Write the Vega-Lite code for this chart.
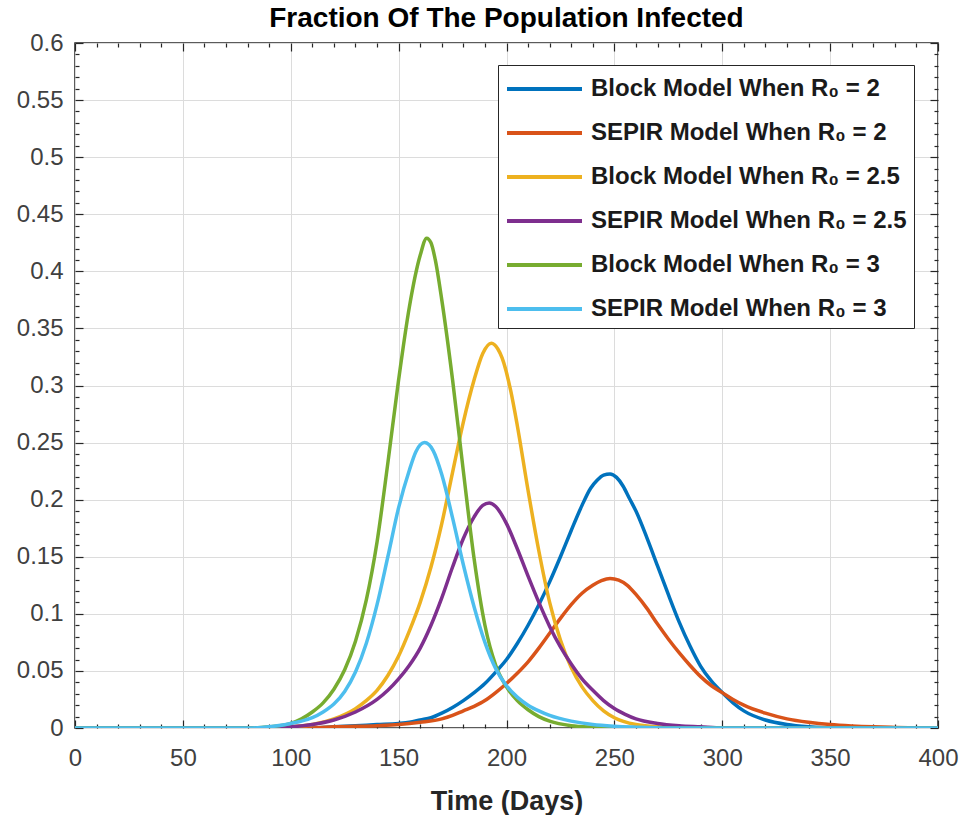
{
  "$schema": "https://vega.github.io/schema/vega-lite/v6.json",
  "autosize": "none",
  "width": 863,
  "height": 685,
  "padding": {"left": 75, "top": 43, "right": 22, "bottom": 87},
  "background": "white",
  "title": {"text": "Fraction Of The Population Infected", "fontSize": 28, "fontWeight": "bold", "font": "Liberation Sans", "color": "black", "offset": -2},
  "config": {
    "view": {"stroke": "#262626", "strokeWidth": 1.5},
    "font": "Liberation Sans",
    "axis": {"labelFont": "Liberation Sans", "labelFontSize": 24, "labelColor": "#404040", "titleFont": "Liberation Sans", "gridColor": "#dcdcdc", "gridWidth": 1, "domain": false, "tickColor": "#262626", "tickWidth": 1.2, "labelOverlap": false, "labelFlush": false}
  },
  "datasets": {
    "curves": [
      {"s": "Block Model When R₀ = 2", "d": 0, "v": 0},
      {"s": "Block Model When R₀ = 2", "d": 110, "v": 0},
      {"s": "Block Model When R₀ = 2", "d": 120, "v": 0.001},
      {"s": "Block Model When R₀ = 2", "d": 130, "v": 0.002},
      {"s": "Block Model When R₀ = 2", "d": 140, "v": 0.003},
      {"s": "Block Model When R₀ = 2", "d": 150, "v": 0.004},
      {"s": "Block Model When R₀ = 2", "d": 155, "v": 0.005},
      {"s": "Block Model When R₀ = 2", "d": 160, "v": 0.007},
      {"s": "Block Model When R₀ = 2", "d": 165, "v": 0.009},
      {"s": "Block Model When R₀ = 2", "d": 170, "v": 0.013},
      {"s": "Block Model When R₀ = 2", "d": 175, "v": 0.018},
      {"s": "Block Model When R₀ = 2", "d": 180, "v": 0.024},
      {"s": "Block Model When R₀ = 2", "d": 185, "v": 0.031},
      {"s": "Block Model When R₀ = 2", "d": 190, "v": 0.039},
      {"s": "Block Model When R₀ = 2", "d": 195, "v": 0.049},
      {"s": "Block Model When R₀ = 2", "d": 200, "v": 0.06},
      {"s": "Block Model When R₀ = 2", "d": 205, "v": 0.074},
      {"s": "Block Model When R₀ = 2", "d": 210, "v": 0.09},
      {"s": "Block Model When R₀ = 2", "d": 215, "v": 0.108},
      {"s": "Block Model When R₀ = 2", "d": 220, "v": 0.128},
      {"s": "Block Model When R₀ = 2", "d": 225, "v": 0.15},
      {"s": "Block Model When R₀ = 2", "d": 230, "v": 0.173},
      {"s": "Block Model When R₀ = 2", "d": 235, "v": 0.195},
      {"s": "Block Model When R₀ = 2", "d": 239, "v": 0.21},
      {"s": "Block Model When R₀ = 2", "d": 242, "v": 0.217},
      {"s": "Block Model When R₀ = 2", "d": 245, "v": 0.2215},
      {"s": "Block Model When R₀ = 2", "d": 248, "v": 0.2225},
      {"s": "Block Model When R₀ = 2", "d": 251, "v": 0.2195},
      {"s": "Block Model When R₀ = 2", "d": 254, "v": 0.212},
      {"s": "Block Model When R₀ = 2", "d": 257, "v": 0.201},
      {"s": "Block Model When R₀ = 2", "d": 260, "v": 0.19},
      {"s": "Block Model When R₀ = 2", "d": 265, "v": 0.167},
      {"s": "Block Model When R₀ = 2", "d": 270, "v": 0.142},
      {"s": "Block Model When R₀ = 2", "d": 275, "v": 0.117},
      {"s": "Block Model When R₀ = 2", "d": 280, "v": 0.093},
      {"s": "Block Model When R₀ = 2", "d": 285, "v": 0.072},
      {"s": "Block Model When R₀ = 2", "d": 290, "v": 0.054},
      {"s": "Block Model When R₀ = 2", "d": 295, "v": 0.041},
      {"s": "Block Model When R₀ = 2", "d": 300, "v": 0.031},
      {"s": "Block Model When R₀ = 2", "d": 305, "v": 0.022},
      {"s": "Block Model When R₀ = 2", "d": 310, "v": 0.015},
      {"s": "Block Model When R₀ = 2", "d": 320, "v": 0.007},
      {"s": "Block Model When R₀ = 2", "d": 330, "v": 0.003},
      {"s": "Block Model When R₀ = 2", "d": 340, "v": 0.001},
      {"s": "Block Model When R₀ = 2", "d": 350, "v": 0},
      {"s": "Block Model When R₀ = 2", "d": 400, "v": 0},

      {"s": "SEPIR Model When R₀ = 2", "d": 0, "v": 0},
      {"s": "SEPIR Model When R₀ = 2", "d": 110, "v": 0},
      {"s": "SEPIR Model When R₀ = 2", "d": 120, "v": 0.001},
      {"s": "SEPIR Model When R₀ = 2", "d": 140, "v": 0.002},
      {"s": "SEPIR Model When R₀ = 2", "d": 150, "v": 0.003},
      {"s": "SEPIR Model When R₀ = 2", "d": 160, "v": 0.005},
      {"s": "SEPIR Model When R₀ = 2", "d": 170, "v": 0.008},
      {"s": "SEPIR Model When R₀ = 2", "d": 175, "v": 0.011},
      {"s": "SEPIR Model When R₀ = 2", "d": 180, "v": 0.015},
      {"s": "SEPIR Model When R₀ = 2", "d": 185, "v": 0.019},
      {"s": "SEPIR Model When R₀ = 2", "d": 190, "v": 0.024},
      {"s": "SEPIR Model When R₀ = 2", "d": 195, "v": 0.031},
      {"s": "SEPIR Model When R₀ = 2", "d": 200, "v": 0.039},
      {"s": "SEPIR Model When R₀ = 2", "d": 205, "v": 0.048},
      {"s": "SEPIR Model When R₀ = 2", "d": 210, "v": 0.058},
      {"s": "SEPIR Model When R₀ = 2", "d": 215, "v": 0.07},
      {"s": "SEPIR Model When R₀ = 2", "d": 220, "v": 0.083},
      {"s": "SEPIR Model When R₀ = 2", "d": 225, "v": 0.096},
      {"s": "SEPIR Model When R₀ = 2", "d": 230, "v": 0.108},
      {"s": "SEPIR Model When R₀ = 2", "d": 235, "v": 0.118},
      {"s": "SEPIR Model When R₀ = 2", "d": 240, "v": 0.125},
      {"s": "SEPIR Model When R₀ = 2", "d": 244, "v": 0.129},
      {"s": "SEPIR Model When R₀ = 2", "d": 248, "v": 0.131},
      {"s": "SEPIR Model When R₀ = 2", "d": 252, "v": 0.1295},
      {"s": "SEPIR Model When R₀ = 2", "d": 256, "v": 0.125},
      {"s": "SEPIR Model When R₀ = 2", "d": 260, "v": 0.117},
      {"s": "SEPIR Model When R₀ = 2", "d": 265, "v": 0.105},
      {"s": "SEPIR Model When R₀ = 2", "d": 270, "v": 0.091},
      {"s": "SEPIR Model When R₀ = 2", "d": 275, "v": 0.078},
      {"s": "SEPIR Model When R₀ = 2", "d": 280, "v": 0.066},
      {"s": "SEPIR Model When R₀ = 2", "d": 285, "v": 0.055},
      {"s": "SEPIR Model When R₀ = 2", "d": 290, "v": 0.045},
      {"s": "SEPIR Model When R₀ = 2", "d": 295, "v": 0.037},
      {"s": "SEPIR Model When R₀ = 2", "d": 300, "v": 0.031},
      {"s": "SEPIR Model When R₀ = 2", "d": 305, "v": 0.025},
      {"s": "SEPIR Model When R₀ = 2", "d": 310, "v": 0.02},
      {"s": "SEPIR Model When R₀ = 2", "d": 320, "v": 0.013},
      {"s": "SEPIR Model When R₀ = 2", "d": 330, "v": 0.008},
      {"s": "SEPIR Model When R₀ = 2", "d": 340, "v": 0.005},
      {"s": "SEPIR Model When R₀ = 2", "d": 350, "v": 0.003},
      {"s": "SEPIR Model When R₀ = 2", "d": 360, "v": 0.0018},
      {"s": "SEPIR Model When R₀ = 2", "d": 370, "v": 0.001},
      {"s": "SEPIR Model When R₀ = 2", "d": 380, "v": 0.0005},
      {"s": "SEPIR Model When R₀ = 2", "d": 390, "v": 0.0002},
      {"s": "SEPIR Model When R₀ = 2", "d": 400, "v": 0},

      {"s": "Block Model When R₀ = 2.5", "d": 0, "v": 0},
      {"s": "Block Model When R₀ = 2.5", "d": 90, "v": 0},
      {"s": "Block Model When R₀ = 2.5", "d": 100, "v": 0.001},
      {"s": "Block Model When R₀ = 2.5", "d": 110, "v": 0.003},
      {"s": "Block Model When R₀ = 2.5", "d": 120, "v": 0.008},
      {"s": "Block Model When R₀ = 2.5", "d": 130, "v": 0.017},
      {"s": "Block Model When R₀ = 2.5", "d": 135, "v": 0.024},
      {"s": "Block Model When R₀ = 2.5", "d": 140, "v": 0.033},
      {"s": "Block Model When R₀ = 2.5", "d": 145, "v": 0.046},
      {"s": "Block Model When R₀ = 2.5", "d": 150, "v": 0.063},
      {"s": "Block Model When R₀ = 2.5", "d": 155, "v": 0.085},
      {"s": "Block Model When R₀ = 2.5", "d": 160, "v": 0.11},
      {"s": "Block Model When R₀ = 2.5", "d": 165, "v": 0.141},
      {"s": "Block Model When R₀ = 2.5", "d": 170, "v": 0.179},
      {"s": "Block Model When R₀ = 2.5", "d": 175, "v": 0.224},
      {"s": "Block Model When R₀ = 2.5", "d": 180, "v": 0.268},
      {"s": "Block Model When R₀ = 2.5", "d": 185, "v": 0.305},
      {"s": "Block Model When R₀ = 2.5", "d": 189, "v": 0.328},
      {"s": "Block Model When R₀ = 2.5", "d": 193, "v": 0.337},
      {"s": "Block Model When R₀ = 2.5", "d": 196, "v": 0.332},
      {"s": "Block Model When R₀ = 2.5", "d": 198, "v": 0.324},
      {"s": "Block Model When R₀ = 2.5", "d": 202, "v": 0.295},
      {"s": "Block Model When R₀ = 2.5", "d": 205, "v": 0.265},
      {"s": "Block Model When R₀ = 2.5", "d": 210, "v": 0.208},
      {"s": "Block Model When R₀ = 2.5", "d": 215, "v": 0.155},
      {"s": "Block Model When R₀ = 2.5", "d": 220, "v": 0.11},
      {"s": "Block Model When R₀ = 2.5", "d": 225, "v": 0.077},
      {"s": "Block Model When R₀ = 2.5", "d": 230, "v": 0.053},
      {"s": "Block Model When R₀ = 2.5", "d": 235, "v": 0.036},
      {"s": "Block Model When R₀ = 2.5", "d": 240, "v": 0.024},
      {"s": "Block Model When R₀ = 2.5", "d": 245, "v": 0.015},
      {"s": "Block Model When R₀ = 2.5", "d": 250, "v": 0.009},
      {"s": "Block Model When R₀ = 2.5", "d": 260, "v": 0.003},
      {"s": "Block Model When R₀ = 2.5", "d": 270, "v": 0.001},
      {"s": "Block Model When R₀ = 2.5", "d": 280, "v": 0},
      {"s": "Block Model When R₀ = 2.5", "d": 400, "v": 0},

      {"s": "SEPIR Model When R₀ = 2.5", "d": 0, "v": 0},
      {"s": "SEPIR Model When R₀ = 2.5", "d": 90, "v": 0},
      {"s": "SEPIR Model When R₀ = 2.5", "d": 100, "v": 0.001},
      {"s": "SEPIR Model When R₀ = 2.5", "d": 110, "v": 0.003},
      {"s": "SEPIR Model When R₀ = 2.5", "d": 120, "v": 0.007},
      {"s": "SEPIR Model When R₀ = 2.5", "d": 130, "v": 0.014},
      {"s": "SEPIR Model When R₀ = 2.5", "d": 140, "v": 0.025},
      {"s": "SEPIR Model When R₀ = 2.5", "d": 145, "v": 0.033},
      {"s": "SEPIR Model When R₀ = 2.5", "d": 150, "v": 0.043},
      {"s": "SEPIR Model When R₀ = 2.5", "d": 155, "v": 0.055},
      {"s": "SEPIR Model When R₀ = 2.5", "d": 160, "v": 0.07},
      {"s": "SEPIR Model When R₀ = 2.5", "d": 165, "v": 0.09},
      {"s": "SEPIR Model When R₀ = 2.5", "d": 170, "v": 0.114},
      {"s": "SEPIR Model When R₀ = 2.5", "d": 175, "v": 0.141},
      {"s": "SEPIR Model When R₀ = 2.5", "d": 180, "v": 0.166},
      {"s": "SEPIR Model When R₀ = 2.5", "d": 185, "v": 0.185},
      {"s": "SEPIR Model When R₀ = 2.5", "d": 189, "v": 0.195},
      {"s": "SEPIR Model When R₀ = 2.5", "d": 192, "v": 0.197},
      {"s": "SEPIR Model When R₀ = 2.5", "d": 195, "v": 0.194},
      {"s": "SEPIR Model When R₀ = 2.5", "d": 200, "v": 0.179},
      {"s": "SEPIR Model When R₀ = 2.5", "d": 205, "v": 0.157},
      {"s": "SEPIR Model When R₀ = 2.5", "d": 210, "v": 0.133},
      {"s": "SEPIR Model When R₀ = 2.5", "d": 215, "v": 0.11},
      {"s": "SEPIR Model When R₀ = 2.5", "d": 220, "v": 0.089},
      {"s": "SEPIR Model When R₀ = 2.5", "d": 225, "v": 0.071},
      {"s": "SEPIR Model When R₀ = 2.5", "d": 230, "v": 0.056},
      {"s": "SEPIR Model When R₀ = 2.5", "d": 235, "v": 0.043},
      {"s": "SEPIR Model When R₀ = 2.5", "d": 240, "v": 0.033},
      {"s": "SEPIR Model When R₀ = 2.5", "d": 245, "v": 0.024},
      {"s": "SEPIR Model When R₀ = 2.5", "d": 250, "v": 0.017},
      {"s": "SEPIR Model When R₀ = 2.5", "d": 255, "v": 0.012},
      {"s": "SEPIR Model When R₀ = 2.5", "d": 260, "v": 0.008},
      {"s": "SEPIR Model When R₀ = 2.5", "d": 270, "v": 0.004},
      {"s": "SEPIR Model When R₀ = 2.5", "d": 280, "v": 0.002},
      {"s": "SEPIR Model When R₀ = 2.5", "d": 290, "v": 0.001},
      {"s": "SEPIR Model When R₀ = 2.5", "d": 300, "v": 0},
      {"s": "SEPIR Model When R₀ = 2.5", "d": 400, "v": 0},

      {"s": "Block Model When R₀ = 3", "d": 0, "v": 0},
      {"s": "Block Model When R₀ = 3", "d": 80, "v": 0},
      {"s": "Block Model When R₀ = 3", "d": 90, "v": 0.001},
      {"s": "Block Model When R₀ = 3", "d": 100, "v": 0.004},
      {"s": "Block Model When R₀ = 3", "d": 105, "v": 0.008},
      {"s": "Block Model When R₀ = 3", "d": 110, "v": 0.014},
      {"s": "Block Model When R₀ = 3", "d": 115, "v": 0.022},
      {"s": "Block Model When R₀ = 3", "d": 120, "v": 0.034},
      {"s": "Block Model When R₀ = 3", "d": 125, "v": 0.051},
      {"s": "Block Model When R₀ = 3", "d": 130, "v": 0.076},
      {"s": "Block Model When R₀ = 3", "d": 135, "v": 0.112},
      {"s": "Block Model When R₀ = 3", "d": 140, "v": 0.163},
      {"s": "Block Model When R₀ = 3", "d": 145, "v": 0.232},
      {"s": "Block Model When R₀ = 3", "d": 150, "v": 0.305},
      {"s": "Block Model When R₀ = 3", "d": 155, "v": 0.369},
      {"s": "Block Model When R₀ = 3", "d": 160, "v": 0.414},
      {"s": "Block Model When R₀ = 3", "d": 163, "v": 0.429},
      {"s": "Block Model When R₀ = 3", "d": 165, "v": 0.425},
      {"s": "Block Model When R₀ = 3", "d": 167, "v": 0.41},
      {"s": "Block Model When R₀ = 3", "d": 170, "v": 0.375},
      {"s": "Block Model When R₀ = 3", "d": 175, "v": 0.305},
      {"s": "Block Model When R₀ = 3", "d": 180, "v": 0.225},
      {"s": "Block Model When R₀ = 3", "d": 185, "v": 0.148},
      {"s": "Block Model When R₀ = 3", "d": 190, "v": 0.09},
      {"s": "Block Model When R₀ = 3", "d": 195, "v": 0.055},
      {"s": "Block Model When R₀ = 3", "d": 200, "v": 0.036},
      {"s": "Block Model When R₀ = 3", "d": 205, "v": 0.024},
      {"s": "Block Model When R₀ = 3", "d": 210, "v": 0.016},
      {"s": "Block Model When R₀ = 3", "d": 215, "v": 0.01},
      {"s": "Block Model When R₀ = 3", "d": 220, "v": 0.006},
      {"s": "Block Model When R₀ = 3", "d": 230, "v": 0.002},
      {"s": "Block Model When R₀ = 3", "d": 240, "v": 0.0007},
      {"s": "Block Model When R₀ = 3", "d": 250, "v": 0},
      {"s": "Block Model When R₀ = 3", "d": 400, "v": 0},

      {"s": "SEPIR Model When R₀ = 3", "d": 0, "v": 0},
      {"s": "SEPIR Model When R₀ = 3", "d": 80, "v": 0},
      {"s": "SEPIR Model When R₀ = 3", "d": 90, "v": 0.001},
      {"s": "SEPIR Model When R₀ = 3", "d": 100, "v": 0.004},
      {"s": "SEPIR Model When R₀ = 3", "d": 105, "v": 0.006},
      {"s": "SEPIR Model When R₀ = 3", "d": 110, "v": 0.009},
      {"s": "SEPIR Model When R₀ = 3", "d": 115, "v": 0.014},
      {"s": "SEPIR Model When R₀ = 3", "d": 120, "v": 0.021},
      {"s": "SEPIR Model When R₀ = 3", "d": 125, "v": 0.032},
      {"s": "SEPIR Model When R₀ = 3", "d": 130, "v": 0.049},
      {"s": "SEPIR Model When R₀ = 3", "d": 135, "v": 0.074},
      {"s": "SEPIR Model When R₀ = 3", "d": 140, "v": 0.108},
      {"s": "SEPIR Model When R₀ = 3", "d": 145, "v": 0.15},
      {"s": "SEPIR Model When R₀ = 3", "d": 150, "v": 0.193},
      {"s": "SEPIR Model When R₀ = 3", "d": 155, "v": 0.226},
      {"s": "SEPIR Model When R₀ = 3", "d": 158, "v": 0.242},
      {"s": "SEPIR Model When R₀ = 3", "d": 162, "v": 0.25},
      {"s": "SEPIR Model When R₀ = 3", "d": 166, "v": 0.243},
      {"s": "SEPIR Model When R₀ = 3", "d": 170, "v": 0.222},
      {"s": "SEPIR Model When R₀ = 3", "d": 175, "v": 0.184},
      {"s": "SEPIR Model When R₀ = 3", "d": 180, "v": 0.143},
      {"s": "SEPIR Model When R₀ = 3", "d": 185, "v": 0.106},
      {"s": "SEPIR Model When R₀ = 3", "d": 190, "v": 0.075},
      {"s": "SEPIR Model When R₀ = 3", "d": 195, "v": 0.052},
      {"s": "SEPIR Model When R₀ = 3", "d": 200, "v": 0.037},
      {"s": "SEPIR Model When R₀ = 3", "d": 205, "v": 0.027},
      {"s": "SEPIR Model When R₀ = 3", "d": 210, "v": 0.02},
      {"s": "SEPIR Model When R₀ = 3", "d": 215, "v": 0.015},
      {"s": "SEPIR Model When R₀ = 3", "d": 220, "v": 0.011},
      {"s": "SEPIR Model When R₀ = 3", "d": 230, "v": 0.006},
      {"s": "SEPIR Model When R₀ = 3", "d": 240, "v": 0.003},
      {"s": "SEPIR Model When R₀ = 3", "d": 250, "v": 0.0015},
      {"s": "SEPIR Model When R₀ = 3", "d": 260, "v": 0.0007},
      {"s": "SEPIR Model When R₀ = 3", "d": 275, "v": 0},
      {"s": "SEPIR Model When R₀ = 3", "d": 400, "v": 0}
    ]
  },
  "data": {"name": "curves"},
  "layer": [
    {
      "mark": {"type": "line", "interpolate": "monotone", "strokeWidth": 3.5, "clip": true},
      "encoding": {
        "x": {"field": "d", "type": "quantitative", "scale": {"domain": [0, 400], "nice": false},
          "axis": {"orient": "bottom", "title": "Time (Days)", "titleFontSize": 27, "titleFontWeight": "bold", "titleColor": "#262626", "titlePadding": 14,
            "values": [0,10,20,30,40,50,60,70,80,90,100,110,120,130,140,150,160,170,180,190,200,210,220,230,240,250,260,270,280,290,300,310,320,330,340,350,360,370,380,390,400],
            "labelExpr": "datum.value % 50 === 0 ? datum.label : ''",
            "tickSize": {"condition": {"test": "datum.value % 50 === 0", "value": -8}, "value": -4},
            "gridOpacity": {"condition": {"test": "datum.value % 50 === 0", "value": 1}, "value": 0},
            "labelPadding": 26}},
        "y": {"field": "v", "type": "quantitative", "scale": {"domain": [0, 0.6], "nice": false},
          "axis": {"orient": "left", "title": null, "format": "~g",
            "values": [0,0.01,0.02,0.03,0.04,0.05,0.06,0.07,0.08,0.09,0.1,0.11,0.12,0.13,0.14,0.15,0.16,0.17,0.18,0.19,0.2,0.21,0.22,0.23,0.24,0.25,0.26,0.27,0.28,0.29,0.3,0.31,0.32,0.33,0.34,0.35,0.36,0.37,0.38,0.39,0.4,0.41,0.42,0.43,0.44,0.45,0.46,0.47,0.48,0.49,0.5,0.51,0.52,0.53,0.54,0.55,0.56,0.57,0.58,0.59,0.6],
            "labelExpr": "abs(datum.value*20 - round(datum.value*20)) < 0.000001 ? datum.label : ''",
            "tickSize": {"condition": {"test": "abs(datum.value*20 - round(datum.value*20)) < 0.000001", "value": -8}, "value": -4},
            "gridOpacity": {"condition": {"test": "abs(datum.value*20 - round(datum.value*20)) < 0.000001", "value": 1}, "value": 0},
            "labelPadding": 20}},
        "color": {"field": "s", "type": "nominal",
          "scale": {"domain": ["Block Model When R₀ = 2", "SEPIR Model When R₀ = 2", "Block Model When R₀ = 2.5", "SEPIR Model When R₀ = 2.5", "Block Model When R₀ = 3", "SEPIR Model When R₀ = 3"],
            "range": ["#0072BD", "#D95319", "#EDB120", "#7E2F8E", "#77AC30", "#4DBEEE"]},
          "legend": {"orient": "none", "legendX": 423, "legendY": 22, "title": null, "strokeColor": "#262626", "fillColor": "white", "padding": 7,
            "symbolType": "M-1,0H4", "symbolSize": 900, "symbolStrokeWidth": 4, "rowPadding": 15,
            "labelFont": "Liberation Sans", "labelFontSize": 24, "labelFontWeight": "bold", "labelColor": "#1a1a1a", "labelLimit": 400, "labelOffset": 52}}
      }
    },
    {
      "mark": {"type": "line", "strokeOpacity": 0},
      "encoding": {
        "x": {"field": "d", "type": "quantitative",
          "axis": {"orient": "top", "title": null, "labels": false, "grid": false,
            "values": [0,10,20,30,40,50,60,70,80,90,100,110,120,130,140,150,160,170,180,190,200,210,220,230,240,250,260,270,280,290,300,310,320,330,340,350,360,370,380,390,400],
            "tickSize": {"condition": {"test": "datum.value % 50 === 0", "value": -8}, "value": -4}}},
        "y": {"field": "v", "type": "quantitative",
          "axis": {"orient": "right", "title": null, "labels": false, "grid": false,
            "values": [0,0.01,0.02,0.03,0.04,0.05,0.06,0.07,0.08,0.09,0.1,0.11,0.12,0.13,0.14,0.15,0.16,0.17,0.18,0.19,0.2,0.21,0.22,0.23,0.24,0.25,0.26,0.27,0.28,0.29,0.3,0.31,0.32,0.33,0.34,0.35,0.36,0.37,0.38,0.39,0.4,0.41,0.42,0.43,0.44,0.45,0.46,0.47,0.48,0.49,0.5,0.51,0.52,0.53,0.54,0.55,0.56,0.57,0.58,0.59,0.6],
            "tickSize": {"condition": {"test": "abs(datum.value*20 - round(datum.value*20)) < 0.000001", "value": -8}, "value": -4}}},
        "detail": {"field": "s", "type": "nominal"}
      }
    }
  ]
}
